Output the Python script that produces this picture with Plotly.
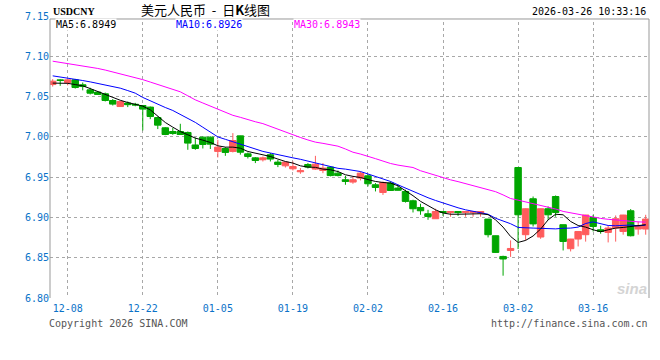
import plotly.graph_objects as go

tick_idx = [2, 12, 22, 32, 42, 52, 62, 72]
tick_labels = ["12-08", "12-22", "01-05", "01-19", "02-02", "02-16", "03-02", "03-16"]
y_ticks = [6.80, 6.85, 6.90, 6.95, 7.00, 7.05, 7.10, 7.15]

open_ = [7.065, 7.0708, 7.0675, 7.0708, 7.0647, 7.0584, 7.0556, 7.0535, 7.0452, 7.0377,
         7.042, 7.0405, 7.039, 7.037, 7.024, 7.0113, 7.0067, 7.0067, 7.0055, 6.990,
         6.9997, 6.9997, 6.982, 6.9856, 6.982, 7.0013, 6.979, 6.974, 6.9716, 6.9778,
         6.9687, 6.9641, 6.9604, 6.9567, 6.9657, 6.960, 6.9583, 6.9625, 6.955, 6.9468,
         6.9439, 6.9489, 6.9517, 6.9406, 6.931, 6.9427, 6.9365, 6.9323, 6.9207, 6.9124,
         6.9046, 6.8984, 6.9074, 6.906, 6.9074, 6.906, 6.906, 6.9054, 6.898, 6.8773,
         6.8516, 6.859, 6.962, 6.8786, 6.9232, 6.8757, 6.9108, 6.926, 6.891, 6.8612,
         6.8732, 6.8786, 6.900, 6.8847, 6.8814, 6.8869, 6.8826, 6.9083, 6.8856, 6.8856]
high = [7.0717, 7.0717, 7.0717, 7.072, 7.0675, 7.061, 7.0565, 7.055, 7.047, 7.0445,
        7.044, 7.0423, 7.0395, 7.0377, 7.0253, 7.0121, 7.011, 7.0163, 7.0067, 6.9993,
        7.0005, 7.0005, 6.9964, 6.9873, 7.0047, 7.0015, 6.9807, 6.975, 6.9757, 6.980,
        6.9715, 6.969, 6.9695, 6.9613, 6.9675, 6.9765, 6.9675, 6.9627, 6.9583, 6.9517,
        6.951, 6.957, 6.9538, 6.9427, 6.9447, 6.9447, 6.9406, 6.9344, 6.922, 6.917,
        6.9095, 6.9108, 6.9076, 6.9076, 6.9076, 6.9076, 6.9076, 6.9076, 6.898, 6.8775,
        6.8525, 6.8715, 6.962, 6.9112, 6.926, 6.911, 6.9137, 6.9273, 6.891, 6.8734,
        6.8828, 6.9032, 6.9033, 6.8897, 6.8897, 6.9025, 6.9032, 6.9104, 6.895, 6.9033]
low = [7.0625, 7.0634, 7.064, 7.060, 7.0578, 7.0527, 7.052, 7.044, 7.039, 7.0372,
       7.037, 7.038, 7.008, 7.022, 7.0097, 7.0022, 7.0026, 7.0026, 6.984, 6.984,
       6.9856, 6.985, 6.9745, 6.9765, 6.9807, 6.978, 6.9732, 6.9675, 6.9695, 6.9695,
       6.9625, 6.962, 6.9583, 6.9542, 6.9608, 6.9592, 6.955, 6.951, 6.951, 6.9406,
       6.9418, 6.946, 6.9385, 6.9323, 6.928, 6.933, 6.9335, 6.9185, 6.9062, 6.9033,
       6.8971, 6.8984, 6.902, 6.901, 6.902, 6.901, 6.901, 6.901, 6.8752, 6.856,
       6.8277, 6.851, 6.8608, 6.8715, 6.8888, 6.8735, 6.897, 6.901, 6.859, 6.8578,
       6.864, 6.870, 6.8826, 6.8798, 6.869, 6.870, 6.8786, 6.8765, 6.8786, 6.8786]
close = [7.0692, 7.0700, 7.0708, 7.0613, 7.0625, 7.0543, 7.0527, 7.0452, 7.0407, 7.044,
         7.040, 7.0396, 7.0345, 7.0253, 7.0146, 7.003, 7.0042, 7.003, 6.9923, 6.9856,
         6.9906, 6.991, 6.9873, 6.9807, 6.9955, 6.981, 6.9757, 6.9707, 6.974, 6.9725,
         6.9658, 6.9687, 6.9633, 6.958, 6.9625, 6.9662, 6.9613, 6.952, 6.952, 6.9447,
         6.9468, 6.955, 6.9418, 6.9372, 6.9434, 6.9335, 6.9337, 6.9199, 6.9108, 6.9083,
         6.9012, 6.9074, 6.9062, 6.9074, 6.906, 6.9074, 6.9074, 6.9074, 6.8786, 6.8566,
         6.8484, 6.8615, 6.9033, 6.9108, 6.892, 6.9108, 6.9033, 6.9062, 6.8702, 6.8732,
         6.8826, 6.903, 6.8888, 6.8826, 6.8869, 6.8984, 6.903, 6.8773, 6.8897, 6.898]

ma5 = [7.0668, 7.0668, 7.0665, 7.065, 7.0634, 7.060, 7.0563, 7.0525, 7.0489, 7.0455,
       7.0427, 7.0407, 7.0382, 7.0336, 7.0253, 7.0179, 7.0121, 7.0067, 7.0026, 6.9985,
       6.996, 6.9931, 6.989, 6.9873, 6.9873, 6.986, 6.9819, 6.980, 6.9778, 6.9757,
       6.9725, 6.9695, 6.9675, 6.9641, 6.9625, 6.9622, 6.960, 6.9592, 6.957, 6.953,
       6.951, 6.9496, 6.947, 6.9447, 6.9434, 6.9427, 6.9393, 6.9335, 6.927, 6.920,
       6.9145, 6.9095, 6.9055, 6.904, 6.904, 6.904, 6.9045, 6.9046, 6.9035, 6.897,
       6.888, 6.8764, 6.869, 6.8715, 6.877, 6.8856, 6.897, 6.904, 6.9033, 6.895,
       6.890, 6.888, 6.8847, 6.8823, 6.8847, 6.8868, 6.8876, 6.8888, 6.8897, 6.891]
ma10 = [7.0758, 7.0745, 7.073, 7.0715, 7.070, 7.0683, 7.0665, 7.0647, 7.0627, 7.0605,
        7.0575, 7.0543, 7.049, 7.0445, 7.040, 7.0365, 7.0328, 7.028, 7.0233, 7.018,
        7.012, 7.006, 7.000, 6.997, 6.994, 6.991, 6.988, 6.985, 6.982, 6.980,
        6.9778, 6.976, 6.974, 6.9722, 6.970, 6.9675, 6.965, 6.9625, 6.961, 6.960,
        6.9585, 6.957, 6.954, 6.951, 6.948, 6.9447, 6.9405, 6.9365, 6.932, 6.928,
        6.9245, 6.9211, 6.918, 6.9145, 6.912, 6.9095, 6.9078, 6.906, 6.904, 6.899,
        6.8959, 6.8922, 6.8876, 6.8868, 6.8868, 6.8865, 6.886, 6.8858, 6.8866, 6.8868,
        6.888, 6.8925, 6.8945, 6.8925, 6.890, 6.8897, 6.8897, 6.8906, 6.8895, 6.8905]
ma30 = [7.094, 7.0926, 7.0913, 7.0895, 7.0877, 7.0862, 7.085, 7.083, 7.0807, 7.0784,
        7.0761, 7.0738, 7.0711, 7.0681, 7.065, 7.062, 7.059, 7.056, 7.051, 7.046,
        7.0421, 7.0382, 7.034, 7.0297, 7.0268, 7.0243, 7.0213, 7.0188, 7.0165, 7.0129,
        7.0093, 7.0057, 7.002, 6.9993, 6.9962, 6.9935, 6.992, 6.990, 6.9885, 6.985,
        6.981, 6.9787, 6.9763, 6.973, 6.970, 6.967, 6.965, 6.9637, 6.962, 6.958,
        6.955, 6.952, 6.949, 6.9467, 6.9445, 6.942, 6.9397, 6.9366, 6.9345, 6.932,
        6.928, 6.9235, 6.9215, 6.9193, 6.9172, 6.9153, 6.9135, 6.9105, 6.9075, 6.9057,
        6.9038, 6.902, 6.900, 6.8988, 6.8977, 6.8967, 6.8958, 6.895, 6.8945, 6.8942]

x = list(range(len(close)))

RED = "#ff5c5c"
GREEN = "#00a600"
BLUE_TXT = "#0a72c8"
FRAME = "#999999"
MONO = "DejaVu Sans Mono"
FRAME_TOP = 0.9894  # paper y of the solid top frame line

fig = go.Figure()
fig.add_trace(go.Candlestick(
    x=x, open=open_, high=high, low=low, close=close,
    increasing=dict(line=dict(color=RED, width=1), fillcolor=RED),
    decreasing=dict(line=dict(color=GREEN, width=1), fillcolor=GREEN),
    whiskerwidth=0, hoverinfo="skip", showlegend=False))
fig.add_trace(go.Scatter(x=x, y=ma30, mode="lines", line=dict(color="#ff00ff", width=1), showlegend=False, hoverinfo="skip"))
fig.add_trace(go.Scatter(x=x, y=ma10, mode="lines", line=dict(color="#0000ff", width=1), showlegend=False, hoverinfo="skip"))
fig.add_trace(go.Scatter(x=x, y=ma5, mode="lines", line=dict(color="#000000", width=1), showlegend=False, hoverinfo="skip"))

fig.update_layout(
    width=660, height=360,
    margin=dict(l=50, r=11, t=16, b=62),
    paper_bgcolor="white", plot_bgcolor="white",
    boxgap=0.14, boxgroupgap=0.0,
    showlegend=False,
    xaxis=dict(
        range=[-0.36, 79.44], rangeslider=dict(visible=False),
        tickmode="array", tickvals=tick_idx, ticktext=tick_labels,
        showgrid=True, gridcolor="#a8a8a8", griddash="dot", gridwidth=1,
        zeroline=False, showline=False, ticks="", ticklabelstandoff=3,
        tickfont=dict(family=MONO, size=10, color=BLUE_TXT),
    ),
    yaxis=dict(
        range=[6.80, 7.1501], tickmode="array", tickvals=y_ticks,
        ticktext=["%.2f" % v for v in y_ticks],
        showgrid=True, gridcolor="#a8a8a8", griddash="dot", gridwidth=1,
        zeroline=False, showline=False,
        ticks="", tickfont=dict(family=MONO, size=10, color=BLUE_TXT),
    ),
)

# white strip above the frame, then frame lines (top, left, right)
fig.add_shape(type="rect", xref="paper", yref="paper", x0=-0.002, x1=1.002, y0=FRAME_TOP, y1=1.01,
              fillcolor="white", line=dict(width=0), layer="above")
fig.add_shape(type="line", xref="paper", yref="paper", x0=0, x1=1, y0=FRAME_TOP, y1=FRAME_TOP,
              line=dict(color=FRAME, width=1), layer="above")
fig.add_shape(type="line", xref="paper", yref="paper", x0=1, x1=1, y0=0, y1=FRAME_TOP,
              line=dict(color=FRAME, width=1), layer="above")
fig.add_shape(type="line", xref="paper", yref="paper", x0=0, x1=0, y0=0, y1=FRAME_TOP,
              line=dict(color=FRAME, width=1), layer="above")


def ann(text, x, y, xanchor="left", color="black", size=10, family=MONO, bg=None):
    fig.add_annotation(text=text, x=x, y=y, xref="paper", yref="paper", xanchor=xanchor, yanchor="middle",
                       showarrow=False, font=dict(family=family, size=size, color=color),
                       bgcolor=bg, borderpad=0)


ann("<b>USDCNY</b>", 0.003, 1.0177, family="Liberation Serif", size=10)
ann("美元人民币\u00a0\u00a0-\u00a0\u00a0日<b>K</b>线图", 0.150, 1.0248, family="Noto Sans CJK SC", size=13)
ann("2026-03-26 10:33:16", 0.997, 1.0142, xanchor="right")
ann("MA5:6.8949", 0.008, 0.9716, color="black", bg="white")
ann("MA10:6.8926", 0.209, 0.9716, color="#0000ff", bg="white")
ann("MA30:6.8943", 0.406, 0.9716, color="#ff00ff", bg="white")
ann("Copyright 2026 SINA.COM", -0.003, -0.092, color="#555555")
ann("http://finance.sina.com.cn", 1.0, -0.092, xanchor="right", color="#555555")
ann("<b><i>sina</i></b>", 0.972, 0.035, xanchor="center", color="#d4d4d4", size=15, family="Liberation Sans")

fig.write_html("out.html", config={"displayModeBar": False, "staticPlot": True},
               post_script="document.body.style.margin='0';")
